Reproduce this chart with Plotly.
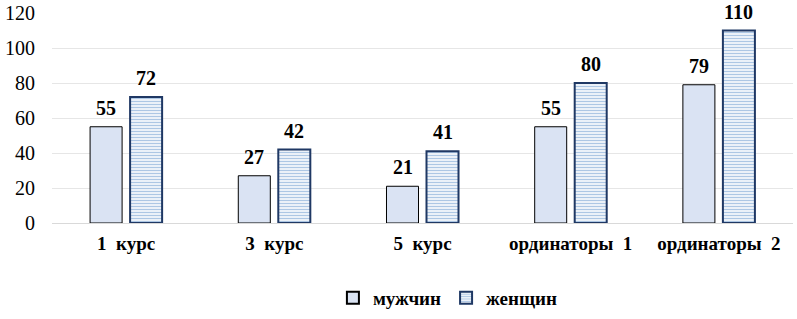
import plotly.graph_objects as go

categories = ["1  курс", "3  курс", "5  курс", "ординаторы  1", "ординаторы  2"]
men = [55, 27, 21, 55, 79]
women = [72, 42, 41, 80, 110]
tick_vals = [0, 20, 40, 60, 80, 100, 120]

font_family = "Liberation Serif"
label_font = dict(family=font_family, size=20, color="#000000", weight="bold")

fig = go.Figure()
fig.add_trace(go.Bar(
    name="мужчин", x=categories, y=men,
    marker=dict(color="#dae3f3", line=dict(color="#000000", width=1)),
))
fig.add_trace(go.Bar(
    name="женщин", x=categories, y=women,
    marker=dict(color="#ffffff", line=dict(color="#1f3864", width=2),
                pattern=dict(shape="-", fgcolor="#5b8fc9", bgcolor="#ffffff",
                             size=3, solidity=0.5)),
))

for cat, m, w in zip(categories, men, women):
    fig.add_annotation(x=cat, y=m, text=str(m), showarrow=False, xshift=-20,
                       yshift=6, yanchor="bottom", font=label_font)
    fig.add_annotation(x=cat, y=w, text=str(w), showarrow=False, xshift=20,
                       yshift=6, yanchor="bottom", font=label_font)

fig.update_layout(
    width=797, height=319,
    margin=dict(l=52, r=4, t=13, b=96, autoexpand=False),
    paper_bgcolor="#ffffff", plot_bgcolor="#ffffff",
    barmode="group", bargap=0.46, bargroupgap=0.2,
    font=dict(family=font_family, color="#000000"),
    showlegend=True,
    legend=dict(orientation="h", x=0.562, xref="container", xanchor="center",
                y=0.066, yref="container", yanchor="middle",
                font=dict(family=font_family, size=19, color="#000000", weight="bold"),
                itemwidth=30, itemsizing="constant"),
)
fig.update_xaxes(
    showline=True, linecolor="#d9d9d9", linewidth=1,
    tickfont=dict(family=font_family, size=19, color="#000000", weight="bold"),
    ticks="", ticklabelstandoff=3,
)
fig.update_yaxes(
    range=[0, 120], tickvals=tick_vals, showgrid=True, gridcolor="#e6e6e6",
    zeroline=False, tickfont=dict(family=font_family, size=20, color="#000000"),
    ticks="", ticklabelstandoff=16,
)

fig.write_html(
    "out.html",
    config={"displayModeBar": False},
    post_script="document.body.style.margin='0px';document.body.style.overflow='hidden';",
)
